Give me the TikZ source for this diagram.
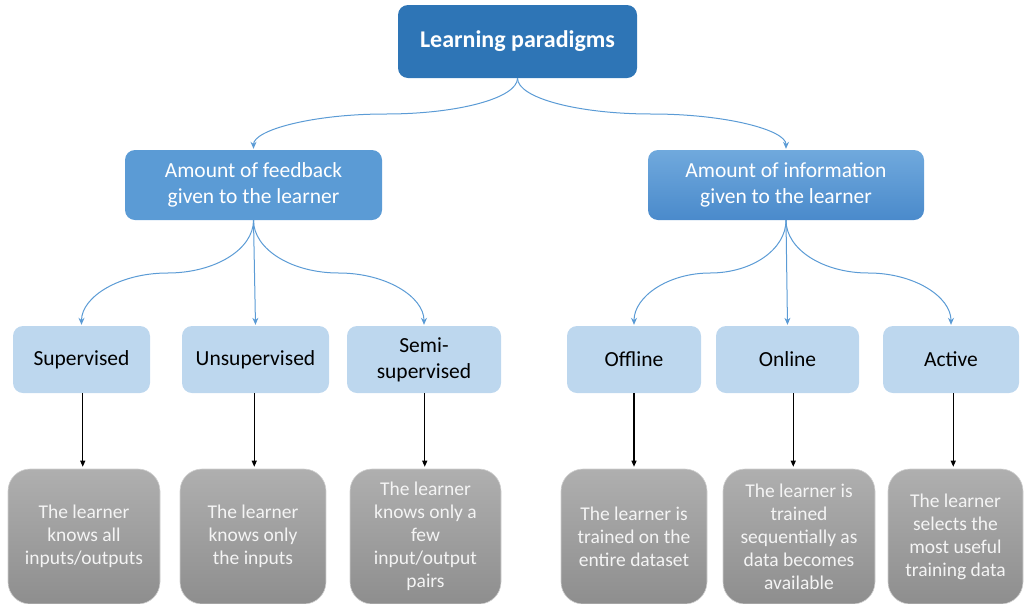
\documentclass[tikz,border=0pt]{standalone}
\usepackage{fontspec}
\setmainfont{Carlito}
\usetikzlibrary{arrows.meta,calc}
\definecolor{topblue}{HTML}{2E75B6}
\definecolor{midblue}{HTML}{5B9BD5}
\definecolor{midtop}{HTML}{70A9DD}
\definecolor{midbot}{HTML}{4A8ACB}
\definecolor{leafblue}{HTML}{BDD7EE}
\definecolor{greytop}{HTML}{AFAFAF}
\definecolor{greybot}{HTML}{8E8E8E}
\definecolor{greyline}{HTML}{D0D0D0}
\definecolor{desctext}{HTML}{F4F4F4}
% two quarter-ellipse connector from #1 to #2
\newcommand\elbowcurve[2]{%
  \coordinate (ecm) at ($(#1)!0.5!(#2)$);
  \draw[barr] (#1) .. controls ($(#1)!0.552!(#1 |- ecm)$) and ($(ecm)!0.552!(ecm -| #1)$) .. (ecm)
     .. controls ($(ecm)!0.552!(ecm -| #2)$) and ($(#2)!0.552!(#2 |- ecm)$) .. (#2);}
\begin{document}
\begin{tikzpicture}[x=1pt,y=-1pt,
  basebox/.style={rectangle, rounded corners=10pt, align=center, inner sep=0pt},
  topbox/.style={basebox, fill=topblue, text=white, minimum width=239pt, minimum height=73pt,
    font=\fontsize{24}{29}\selectfont\bfseries},
  midbox/.style={basebox, text=white, minimum height=70pt, font=\fontsize{21.5}{26}\selectfont},
  leafbox/.style={basebox, fill=leafblue, text=black, minimum height=67pt, font=\fontsize{21.5}{26}\selectfont},
  descbox/.style={basebox, rounded corners=22pt, top color=greytop, bottom color=greybot, draw=greyline, line width=0.6pt,
    text=desctext, minimum height=135pt, font=\fontsize{19.5}{23}\selectfont},
  barr/.style={draw=midblue, line width=1pt, shorten >=1pt, -{Stealth[length=7pt,width=6pt]}},
  karr/.style={draw=black, line width=1.1pt, shorten >=2pt, -{Triangle[length=6pt,width=5pt]}}
]
\useasboundingbox (0,0) rectangle (1024,603);

\node[topbox] (top) at (517.5,41.5) {Learning paradigms};

\node[midbox, fill=midblue, minimum width=257pt] (fb) at (253.5,185) {Amount of feedback\\given to the learner};
\node[midbox, top color=midtop, bottom color=midbot, minimum width=276pt] (inf) at (786,185) {Amount of information\\given to the learner};

\node[leafbox, minimum width=137pt] (sup)  at (81.5,359.5) {Supervised};
\node[leafbox, minimum width=147pt] (uns)  at (255.5,359.5) {Unsupervised};
\node[leafbox, minimum width=154pt] (semi) at (424,359.5) {Semi-\\supervised};
\node[leafbox, minimum width=134pt] (off)  at (634,359.5) {Offline};
\node[leafbox, minimum width=143pt] (onl)  at (787.5,359.5) {Online};
\node[leafbox, minimum width=136pt] (act)  at (951,359.5) {Active};

\node[descbox, minimum width=152pt] (b1) at (84,536.5) {The learner\\knows all\\inputs/outputs};
\node[descbox, minimum width=146pt] (b2) at (253,536.5) {The learner\\knows only\\the inputs};
\node[descbox, minimum width=151pt] (b3) at (425.5,536.5) {The learner\\knows only a\\few\\input/output\\pairs};
\node[descbox, minimum width=146pt] (b4) at (634,536.5) {The learner is\\trained on the\\entire dataset};
\node[descbox, minimum width=152pt] (b5) at (799,536.5) {The learner is\\trained\\sequentially as\\data becomes\\available};
\node[descbox, minimum width=135pt] (b6) at (955.5,536.5) {The learner\\selects the\\most useful\\training data};

% top level connectors
\elbowcurve{top.south}{fb.north}
\elbowcurve{top.south}{inf.north}

% second level connectors
\elbowcurve{fb.south}{sup.north}
\draw[barr] (fb.south) -- (uns.north);
\elbowcurve{fb.south}{semi.north}
\elbowcurve{inf.south}{off.north}
\draw[barr] (inf.south) -- (onl.north);
\elbowcurve{inf.south}{act.north}

% description arrows
\coordinate (m1) at ($(sup.south)!0.5!(b1.north)$);
\coordinate (m2) at ($(uns.south)!0.5!(b2.north)$);
\coordinate (m3) at ($(semi.south)!0.5!(b3.north)$);
\coordinate (m4) at ($(off.south)!0.5!(b4.north)$);
\coordinate (m5) at ($(onl.south)!0.5!(b5.north)$);
\coordinate (m6) at ($(act.south)!0.5!(b6.north)$);
\draw[karr] (m1 |- sup.south) -- (m1 |- b1.north);
\draw[karr] (m2 |- uns.south) -- (m2 |- b2.north);
\draw[karr] (m3 |- semi.south) -- (m3 |- b3.north);
\draw[karr] (m4 |- off.south) -- (m4 |- b4.north);
\draw[karr] (m5 |- onl.south) -- (m5 |- b5.north);
\draw[karr] (m6 |- act.south) -- (m6 |- b6.north);
\end{tikzpicture}
\end{document}
